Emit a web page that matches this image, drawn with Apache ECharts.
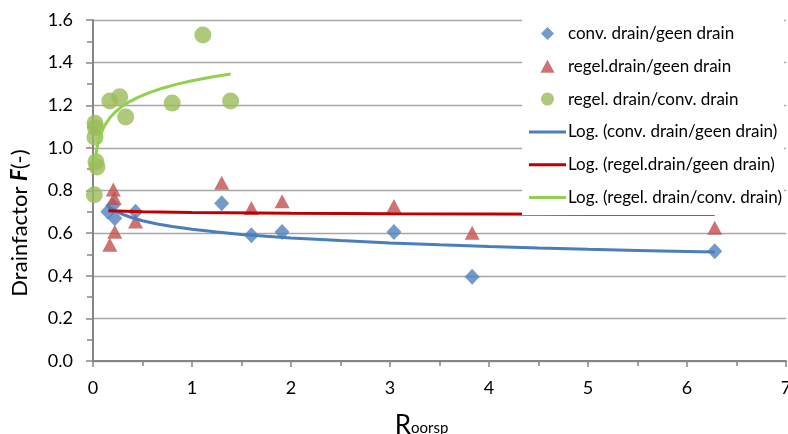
<!DOCTYPE html>
<html>
<head>
<meta charset="utf-8">
<script src="https://cdn.jsdelivr.net/npm/echarts@6/dist/echarts.min.js"></script>
<style>
html,body{margin:0;padding:0;background:#fff;}
#c{width:788px;height:434px;}
</style>
</head>
<body>
<div id="c"></div>
<script>
// ---- data ----
const seriesNames = [
  'conv. drain/geen drain',
  'regel.drain/geen drain',
  'regel. drain/conv. drain',
  'Log. (conv. drain/geen drain)',
  'Log. (regel.drain/geen drain)',
  'Log. (regel. drain/conv. drain)'
];
const convX  = [0.15, 0.20, 0.22, 0.43, 1.30, 1.60, 1.91, 3.04, 3.83, 6.28];
const convY  = [0.70, 0.73, 0.67, 0.70, 0.74, 0.59, 0.605, 0.605, 0.395, 0.515];
const regelX = [0.17, 0.205, 0.215, 0.22, 0.43, 1.30, 1.60, 1.91, 3.04, 3.83, 6.28];
const regelY = [0.545, 0.805, 0.765, 0.607, 0.655, 0.836, 0.718, 0.75, 0.727, 0.602, 0.625];
const greenX = [0.013, 0.02, 0.025, 0.02, 0.03, 0.04, 0.17, 0.27, 0.33, 0.80, 1.11, 1.39];
const greenY = [0.78, 1.115, 1.095, 1.05, 0.935, 0.91, 1.22, 1.24, 1.145, 1.21, 1.53, 1.22];

// trend lines (Log. fits)
const convTrendX  = [0.145, 0.2, 0.3, 0.4, 0.5, 0.65, 0.8, 1, 1.25, 1.5, 1.75, 2, 2.5, 3, 3.5, 4, 4.5, 5, 5.5, 6, 6.28];
const convTrendY  = [0.730, 0.711, 0.688, 0.671, 0.658, 0.643, 0.631, 0.618, 0.605, 0.594, 0.585, 0.577, 0.565, 0.554, 0.545, 0.537, 0.530, 0.524, 0.519, 0.514, 0.511];
const regelTrendX = [0.155, 0.5, 1, 2, 3, 4, 5, 6.28];
const regelTrendY = [0.705, 0.700, 0.697, 0.693, 0.691, 0.690, 0.689, 0.688];
const greenTrendX = [0.02, 0.025, 0.03, 0.04, 0.05, 0.06, 0.08, 0.1, 0.13, 0.17, 0.22, 0.28, 0.35, 0.45, 0.55, 0.7, 0.85, 1.0, 1.2, 1.39];
const greenTrendY = [0.930, 0.952, 0.970, 0.998, 1.020, 1.038, 1.066, 1.088, 1.114, 1.141, 1.166, 1.190, 1.212, 1.236, 1.256, 1.280, 1.299, 1.315, 1.333, 1.347];

const xTicks = [0, 1, 2, 3, 4, 5, 6, 7];
const yTicks = [0.0, 0.2, 0.4, 0.6, 0.8, 1.0, 1.2, 1.4, 1.6];

const pairs = (xs, ys) => xs.map((x, i) => [x, ys[i]]);
const FONT = 'Lato, "Open Sans", sans-serif';

const ICON_DIAMOND  = 'path://M6,0L12,6L6,12L0,6Z';
const ICON_TRIANGLE = 'path://M6,0L12,11L0,11Z';
const ICON_CIRCLE   = 'path://M6,0A6,6,0,1,1,6,12A6,6,0,1,1,6,0Z';
const ICON_LINE     = 'path://M0,0H37V3H0Z';

const chart = echarts.init(document.getElementById('c'), null, {renderer: 'canvas'});
chart.setOption({
  animation: false,
  backgroundColor: '#fff',
  textStyle: {fontFamily: FONT},
  grid: {left: 93, right: 2, top: 20, bottom: 73, containLabel: false, outerBoundsMode: 'none'},
  legend: {
    orient: 'vertical',
    left: 522, top: 0,
    padding: [25, 2, 9, 7],
    backgroundColor: '#fff',
    itemWidth: 37, itemHeight: 13, itemGap: 15.8,
    symbolKeepAspect: true,
    textStyle: {fontFamily: FONT, fontSize: 17, color: '#000', lineHeight: 14, padding: [0, 0, 0, -3]},
    data: [
      {name: seriesNames[0], icon: ICON_DIAMOND},
      {name: seriesNames[1], icon: ICON_TRIANGLE},
      {name: seriesNames[2], icon: ICON_CIRCLE},
      {name: seriesNames[3], icon: ICON_LINE},
      {name: seriesNames[4], icon: ICON_LINE},
      {name: seriesNames[5], icon: ICON_LINE}
    ],
    z: 10
  },
  xAxis: {
    type: 'value', min: xTicks[0], max: xTicks[xTicks.length - 1], interval: 1,
    name: '{r|R}{s|oorsp}', nameLocation: 'middle', nameGap: 52,
    nameTextStyle: {fontFamily: FONT, color: '#000', padding: [0, 36, 0, 0],
      rich: {
        r: {fontFamily: FONT, fontSize: 26, lineHeight: 26, color: '#000', verticalAlign: 'top'},
        s: {fontFamily: FONT, fontSize: 15, lineHeight: 15, color: '#000', verticalAlign: 'top', padding: [8, 0, 0, 0]}
      }},
    axisLine: {lineStyle: {color: '#868686', width: 2}},
    axisTick: {show: true, inside: false, length: 6, lineStyle: {color: '#868686', width: 1.5}},
    minorTick: {show: true, splitNumber: 2, length: 5, lineStyle: {color: '#868686', width: 1.5}},
    axisLabel: {fontFamily: FONT, fontSize: 18, color: '#000', margin: 18},
    splitLine: {show: false}
  },
  yAxis: {
    type: 'value', min: yTicks[0], max: yTicks[yTicks.length - 1], interval: 0.2,
    name: 'Drainfactor {f|F}(-)', nameLocation: 'middle', nameGap: 62, nameRotate: 90,
    nameTextStyle: {fontFamily: FONT, fontSize: 22, color: '#000', padding: [0, 65, 0, 0],
      rich: {f: {fontFamily: FONT, fontSize: 22, color: '#000', fontWeight: 'bold', fontStyle: 'italic'}}},
    axisLine: {show: true, lineStyle: {color: '#868686', width: 2}},
    axisTick: {show: true, inside: false, length: 7, lineStyle: {color: '#868686', width: 1.5}},
    minorTick: {show: true, splitNumber: 2, length: 6, lineStyle: {color: '#868686', width: 1.5}},
    axisLabel: {fontFamily: FONT, fontSize: 18, color: '#000', margin: 20, formatter: v => v.toFixed(1)},
    splitLine: {show: true, lineStyle: {color: '#a6a6a6', width: 1.3}}
  },
  series: [
    {name: seriesNames[0], type: 'scatter', symbol: 'diamond', symbolSize: [15, 16],
     itemStyle: {color: '#4f81bd'}, data: pairs(convX, convY), z: 3},
    {name: seriesNames[1], type: 'scatter', symbol: 'triangle', symbolSize: [15, 14],
     itemStyle: {color: '#c0504d'}, data: pairs(regelX, regelY), z: 3},
    {name: seriesNames[2], type: 'scatter', symbol: 'circle', symbolSize: 17,
     itemStyle: {color: '#9bbb59'}, data: pairs(greenX, greenY), z: 3},
    {name: seriesNames[3], type: 'line', symbol: 'none', smooth: false,
     lineStyle: {color: '#4a7ebb', width: 3}, itemStyle: {color: '#4a7ebb'},
     data: pairs(convTrendX, convTrendY), z: 4},
    {name: seriesNames[4], type: 'line', symbol: 'none', smooth: false,
     lineStyle: {color: '#c00000', width: 3}, itemStyle: {color: '#c00000'},
     data: pairs(regelTrendX, regelTrendY), z: 4},
    {name: seriesNames[5], type: 'line', symbol: 'none', smooth: false,
     lineStyle: {color: '#92d050', width: 3}, itemStyle: {color: '#92d050'},
     data: pairs(greenTrendX, greenTrendY), z: 4}
  ]
});
</script>
</body>
</html>
